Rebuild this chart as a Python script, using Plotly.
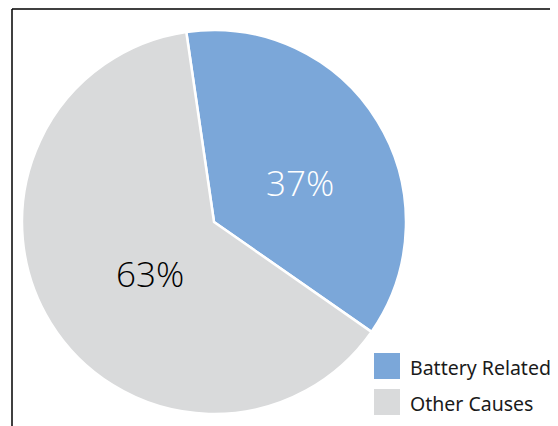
import plotly.graph_objects as go

labels = ["Battery Related", "Other Causes"]
values = [37, 63]
colors = ["#7BA7D9", "#D9DADB"]
text_colors = ["#FFFFFF", "#000000"]

W, H = 558, 426
OFF = 8  # page body margin offset


def px_x(x):
    return (x - OFF) / W


def px_y(y):
    return 1 - (y - OFF) / H


fig = go.Figure(
    go.Pie(
        labels=labels,
        values=values,
        sort=False,
        direction="clockwise",
        rotation=-8.3,
        marker=dict(colors=colors, line=dict(color="white", width=2.5)),
        textinfo="none",
        domain=dict(x=[px_x(22), px_x(406)], y=[px_y(414), px_y(30)]),
        showlegend=False,
        hoverinfo="none",
    )
)

total = sum(values)
label_pos_px = [(300, 182), (150, 273)]

shapes = [
    dict(type="line", xref="paper", yref="paper", x0=px_x(12), x1=1.05, y0=px_y(9), y1=px_y(9),
         line=dict(color="black", width=1.5)),
    dict(type="line", xref="paper", yref="paper", x0=px_x(12), x1=px_x(12), y0=px_y(9), y1=-0.05,
         line=dict(color="black", width=1.5)),
]
annotations = []
for i, (lab, col) in enumerate(zip(labels, colors)):
    pct = "{:.0f}%".format(100 * values[i] / total)
    lx, ly = label_pos_px[i]
    annotations.append(dict(xref="paper", yref="paper", x=px_x(lx), y=px_y(ly), text=pct,
                            showarrow=False, xanchor="center", yanchor="middle",
                            font=dict(family="Open Sans", size=35, weight=300, color=text_colors[i])))
    top = 353 + 36 * i
    shapes.append(dict(type="rect", xref="paper", yref="paper", x0=px_x(374), x1=px_x(400),
                       y0=px_y(top + 26), y1=px_y(top), fillcolor=col, line=dict(width=0)))
    annotations.append(dict(xref="paper", yref="paper", x=px_x(408), y=px_y(top + 14), text=lab,
                            showarrow=False, xanchor="left", yanchor="middle",
                            font=dict(family="Noto Sans", size=19.5, color="#1a1a1a")))

fig.update_layout(
    width=W, height=H, margin=dict(l=0, r=0, t=0, b=0),
    paper_bgcolor="white", plot_bgcolor="white",
    shapes=shapes, annotations=annotations,
)

fig.write_html("out.html")
